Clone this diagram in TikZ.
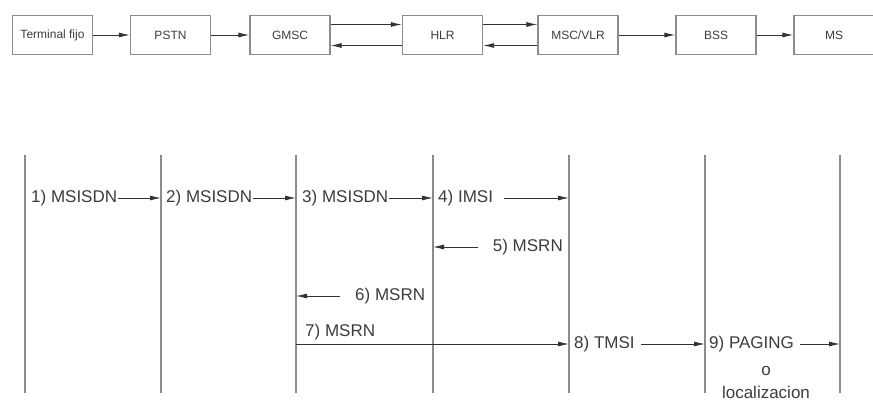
\documentclass[tikz,border=0pt]{standalone}
\usepackage{fontspec}
\setmainfont{Liberation Sans}
\usepackage{xcolor}
\usepackage{tikz}
\usetikzlibrary{arrows.meta,positioning,calc}
\definecolor{linegray}{RGB}{140,140,140}
\definecolor{textgray}{RGB}{60,60,60}
\tikzset{
  entity/.style={
    draw = linegray,
    line width = 1.3pt,
    minimum width = 80pt,
    minimum height = 39pt,
    text = textgray,
    font = \fontsize{12}{14}\selectfont
  },
  lifeline/.style={
    draw = linegray,
    line width = 2pt
  },
  msg/.style={
    line width = 0.9pt,
    draw = black!80,
    -{Latex[length=11pt,width=5pt]}
  },
  lbl/.style={
    inner sep = 1pt,
    text = textgray,
    font = \fontsize{17}{19}\selectfont
  }
}

\begin{document}
\begin{tikzpicture}[x=1pt,y=-1pt]
        \useasboundingbox (0,0) rectangle (873,403);
        % network elements
        \node[entity] (term) at (52.5,35) {Terminal fijo};
        \node[entity] (pstn) at (170.5,35) {PSTN};
        \node[entity] (gmsc) at (290,35) {GMSC};
        \node[entity] (hlr) at (442.5,35) {HLR};
        \node[entity] (msc) at (578,35) {MSC/VLR};
        \node[entity] (bss) at (716,35) {BSS};
        \node[entity] (ms) at (834,35) {MS};
        \draw[msg] (term) -- (pstn);
        \draw[msg] (pstn) -- (gmsc);
        \draw[msg] ([yshift=10.5pt]gmsc.east) -- ([yshift=10.5pt]hlr.west);
        \draw[msg] ([yshift=-10.5pt]hlr.west) -- ([yshift=-10.5pt]gmsc.east);
        \draw[msg] ([yshift=10.5pt]hlr.east) -- ([yshift=10.5pt]msc.west);
        \draw[msg] ([yshift=-10.5pt]msc.west) -- ([yshift=-10.5pt]hlr.east);
        \draw[msg] (msc) -- (bss);
        \draw[msg] (bss) -- (ms);
        % lifelines
        \foreach \i/\x in {1/25,2/161,3/296,4/433,5/569,6/705,7/840}{
          \coordinate (t\i) at (\x,155);
          \coordinate (b\i) at (\x,393);
          \draw[lifeline] (t\i) -- (b\i);
        }
        % messages
        \node[lbl, anchor=west] (m1) at (30,198) {1) MSISDN};
        \draw[msg] (m1.east) -- (m1.east -| t2);
        \node[lbl, anchor=west] (m2) at (165,198) {2) MSISDN};
        \draw[msg] (m2.east) -- (m2.east -| t3);
        \node[lbl, anchor=west] (m3) at (301,198) {3) MSISDN};
        \draw[msg] (m3.east) -- (m3.east -| t4);
        \node[lbl, anchor=west] (m4) at (437,198) {4) IMSI};
        \draw[msg] ([xshift=10pt]m4.east) -- (m4.east -| t5);
        \node[lbl, anchor=east] (m5) at (564,247) {5) MSRN};
        \draw[msg] ([xshift=-14pt]m5.west) -- (m5.west -| t4);
        \node[lbl, anchor=west] (m6) at (354,296) {6) MSRN};
        \draw[msg] ([xshift=-14pt]m6.west) -- (m6.west -| t3);
        \node[lbl, anchor=west] (m7) at (304,332) {7) MSRN};
        \node[lbl, anchor=west] (m8) at (573,344) {8) TMSI};
        \draw[msg] (m8.west -| t3) -- (m8.west -| t5);
        \draw[msg] ([xshift=5pt]m8.east) -- (m8.east -| t6);
        \node[lbl, anchor=west] (m9) at (708,344) {9) PAGING};
        \draw[msg] ([xshift=5pt]m9.east) -- (m9.east -| t7);
        \node[lbl] (or) at (766,371) {o};
        \node[lbl] (loc) at (766,392) {localizacion};
\end{tikzpicture}
\end{document}
